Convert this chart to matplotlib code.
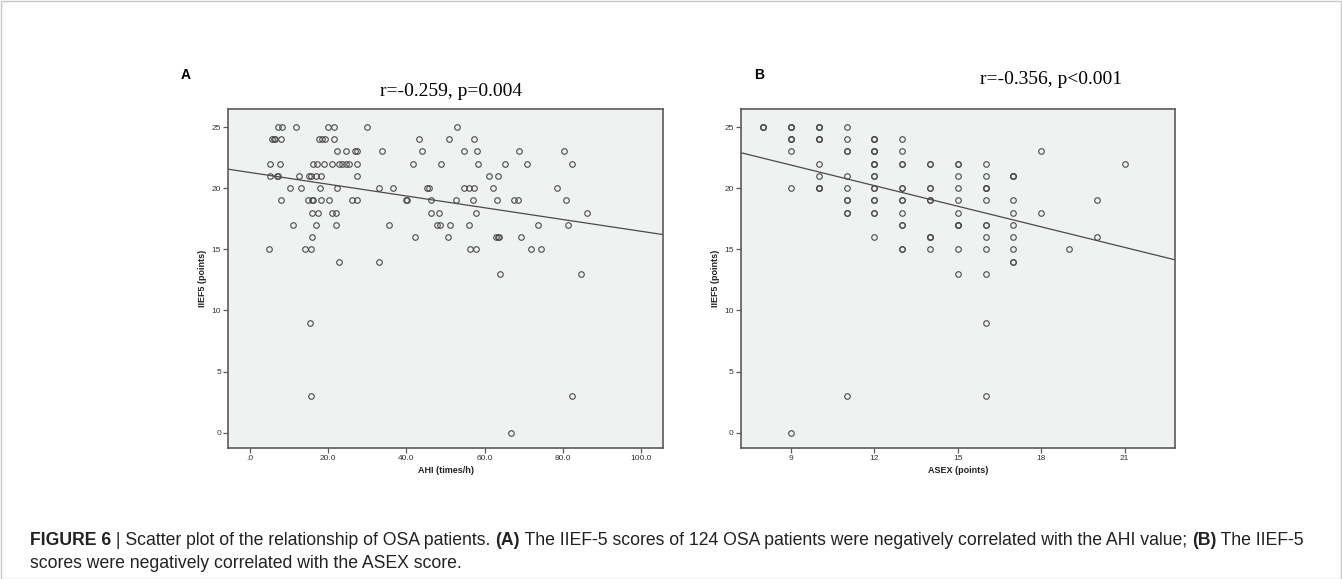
import numpy as np
import matplotlib
matplotlib.use("Agg")
import matplotlib.pyplot as plt
from matplotlib.patches import Rectangle

# ---------------- data: panel A (AHI vs IIEF5) ----------------
ahi_rows = {
    25: [7.2, 8.2, 11.9, 20.0, 21.5, 30.0, 52.9],
    24: [5.7, 6.1, 6.4, 7.9, 17.6, 18.5, 19.2, 21.6, 43.3, 50.9, 57.3],
    23: [22.3, 24.5, 26.9, 27.3, 33.7, 43.9, 54.8, 58.0, 68.8, 80.4],
    22: [5.1, 7.7, 16.2, 17.1, 19.0, 20.9, 22.8, 23.6, 24.5, 25.3, 27.3, 41.8, 48.8, 58.2, 65.1, 70.8, 82.3],
    21: [5.1, 6.8, 7.1, 12.5, 15.1, 15.5, 16.8, 18.2, 27.3, 61.0, 63.3],
    20: [10.2, 13.1, 17.9, 22.2, 33.1, 36.7, 45.2, 45.9, 54.8, 56.1, 57.4, 62.1, 78.4],
    19: [7.9, 14.8, 15.8, 16.2, 18.3, 20.2, 26.2, 27.3, 39.9, 40.2, 46.4, 52.7, 57.0, 63.1, 67.4, 68.6, 80.8],
    18: [16.0, 17.3, 21.1, 21.9, 46.2, 48.3, 57.7, 86.1],
    17: [11.1, 16.8, 22.0, 35.6, 47.9, 48.6, 51.2, 56.1, 73.6, 81.4],
    16: [15.8, 42.2, 50.6, 62.9, 63.3, 63.6, 69.3],
    15: [4.9, 14.1, 15.5, 56.3, 57.8, 71.9, 74.3],
    14: [22.8, 33.0],
    13: [63.9, 84.7],
    9: [15.4],
    3: [15.6, 82.3],
    0: [66.8],
}
ahi_x = [x for y, xs in ahi_rows.items() for x in xs]
ahi_y = [y for y, xs in ahi_rows.items() for x in xs]

# ---------------- data: panel B (ASEX vs IIEF5) ----------------
# (repeated values = overlapping patients drawn as darker circles)
asex_cols = {
    8: [25, 25, 25],
    9: [25, 25, 25, 24, 24, 24, 23, 20, 0],
    10: [25, 25, 25, 24, 24, 24, 22, 21, 20, 20, 20],
    11: [25, 24, 23, 23, 21, 20, 19, 19, 18, 18, 3],
    12: [24, 24, 24, 23, 23, 23, 22, 22, 22, 21, 21, 20, 20, 19, 19, 18, 18, 16],
    13: [24, 23, 22, 22, 20, 20, 19, 19, 18, 17, 17, 15, 15],
    14: [22, 22, 20, 20, 19, 19, 16, 16, 16, 15],
    15: [22, 22, 21, 20, 19, 18, 17, 17, 17, 15, 13],
    16: [22, 21, 20, 20, 20, 19, 17, 17, 16, 15, 13, 9, 3],
    17: [21, 21, 21, 19, 18, 17, 16, 15, 14, 14],
    18: [23, 18],
    19: [15],
    20: [19, 16],
    21: [22],
}
asex_x = [x for x, ys in asex_cols.items() for y in ys]
asex_y = [y for x, ys in asex_cols.items() for y in ys]

ahi_ticks = [0, 20, 40, 60, 80, 100]
ahi_ticklabels = [".0", "20.0", "40.0", "60.0", "80.0", "100.0"]
asex_ticks = [9, 12, 15, 18, 21]
y_ticks = [0, 5, 10, 15, 20, 25]

stats_A = "r=-0.259, p=0.004"
stats_B = "r=-0.356, p<0.001"

W, H = 1342, 579
fig = plt.figure(figsize=(W / 100, H / 100), dpi=100)
fig.patch.set_facecolor("white")

def px_axes(l, t, r, b):
    return fig.add_axes([l / W, 1 - b / H, (r - l) / W, (b - t) / H])

frame_c = "#5a5a5a"

def style(ax, xlim, ylim):
    ax.set_facecolor("#f0f1f1")
    ax.set_xlim(*xlim)
    ax.set_ylim(*ylim)
    for s in ax.spines.values():
        s.set_color(frame_c)
        s.set_linewidth(1.2)
    ax.tick_params(direction="out", length=3.5, width=0.9, color=frame_c,
                   labelsize=6, labelcolor="#333333", pad=1.5)
    ax.tick_params(axis="x", top=False)
    ax.tick_params(axis="y", right=False)
    ax.set_yticks(y_ticks)
    ax.set_yticklabels([str(t) for t in y_ticks], fontfamily="Liberation Sans")
    ax.set_ylabel("IIEF5 (points)", fontsize=6.5, fontweight="bold",
                  fontfamily="Liberation Sans", color="#222222", labelpad=3)

def scatter_fit(ax, x, y, xlim):
    ax.plot(x, y, linestyle="none", marker="o", markersize=4,
            markerfacecolor="none", markeredgecolor="#4a4a4a",
            markeredgewidth=0.8)
    k, b = np.polyfit(np.asarray(x, float), np.asarray(y, float), 1)
    xx = np.array(xlim)
    ax.plot(xx, k * xx + b, color="#4a4a4a", lw=0.9)

ylim = (-1.25, 26.45)

# Panel A
axA = px_axes(228, 109.3, 663, 448)
xlimA = (-5.6, 105.6)
style(axA, xlimA, ylim)
scatter_fit(axA, ahi_x, ahi_y, xlimA)
axA.set_xticks(ahi_ticks)
axA.set_xticklabels(ahi_ticklabels, fontfamily="Liberation Sans")
axA.set_xlabel("AHI (times/h)", fontsize=6.5, fontweight="bold",
               fontfamily="Liberation Sans", color="#222222", labelpad=3)

# Panel B
axB = px_axes(740.7, 109.3, 1175, 448)
xlimB = (7.19, 22.81)
style(axB, xlimB, ylim)
scatter_fit(axB, asex_x, asex_y, xlimB)
axB.set_xticks(asex_ticks)
axB.set_xticklabels([str(t) for t in asex_ticks], fontfamily="Liberation Sans")
axB.set_xlabel("ASEX (points)", fontsize=6.5, fontweight="bold",
               fontfamily="Liberation Sans", color="#222222", labelpad=3)

# panel letters & stats
fig.text(181 / W, 1 - 75 / H, "A", fontsize=10, fontweight="bold",
         fontfamily="Liberation Sans", va="center", ha="left")
fig.text(754 / W, 1 - 75 / H, "B", fontsize=10, fontweight="bold",
         fontfamily="Liberation Sans", va="center", ha="left")
fig.text(522 / W, 1 - 96 / H, stats_A, fontsize=14, fontfamily="Liberation Serif",
         ha="right", va="baseline")
fig.text(1122 / W, 1 - 84 / H, stats_B, fontsize=14, fontfamily="Liberation Serif",
         ha="right", va="baseline")

# outer border
fig.add_artist(Rectangle((0.5 / W, 0.5 / H), 1 - 1.5 / W, 1 - 1.5 / H,
                         transform=fig.transFigure, fill=False,
                         edgecolor="#c8c8c8", lw=1.0))

# caption
line1 = [("FIGURE 6", True), (" | Scatter plot of the relationship of OSA patients. ", False),
         ("(A)", True), (" The IIEF-5 scores of 124 OSA patients were negatively correlated with the AHI value; ", False),
         ("(B)", True), (" The IIEF-5", False)]
line2 = [("scores were negatively correlated with the ASEX score.", False)]

renderer = fig.canvas.get_renderer()

def measure(parts, size):
    w = 0.0
    for txt, bold in parts:
        t = fig.text(0, 0, txt, fontsize=size, fontweight="bold" if bold else "normal",
                     fontfamily="Liberation Sans")
        w += t.get_window_extent(renderer).width
        t.remove()
    return w

def place_line(parts, y_px, size):
    x = 30.0
    for txt, bold in parts:
        t = fig.text(x / W, 1 - y_px / H, txt, fontsize=size,
                     fontweight="bold" if bold else "normal",
                     fontfamily="Liberation Sans", color="#222222",
                     va="baseline", ha="left")
        x += t.get_window_extent(renderer).width
    return x

base = 10.0
cap_size = base * (1312 - 30) / measure(line1, base)
place_line(line1, 545, cap_size)
place_line(line2, 568, cap_size)

fig.savefig("out.png", dpi=100)
